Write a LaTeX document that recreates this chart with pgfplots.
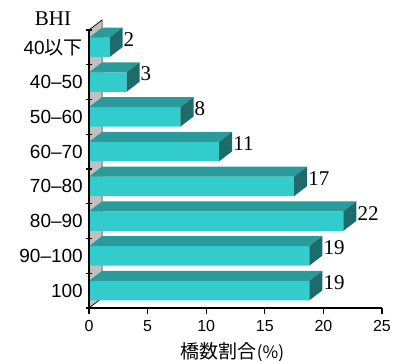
\documentclass[border=0pt]{standalone}
\usepackage{fontspec}
\setmainfont{Liberation Sans}
\newfontfamily\cjk{Noto Sans CJK JP}
\newfontfamily\tnr{Liberation Serif}
\usepackage{pgfplots}
\pgfplotsset{compat=1.18}
\definecolor{frontc}{HTML}{33CCCC}
\definecolor{topc}{HTML}{2A9A9A}
\definecolor{sidec}{HTML}{1E6B6B}
\definecolor{wallc}{HTML}{C0C0C0}
\pgfplotstableread{
y v lab
8 1.75 2
7 3.2 3
6 7.8 8
5 11.1 11
4 17.5 17
3 21.7 22
2 18.8 19
1 18.8 19
}\bardata
\begin{document}
\begin{tikzpicture}
\useasboundingbox (-89pt,-52pt) rectangle (318pt,308pt);
\begin{axis}[
  at={(0,0)}, anchor=south west, scale only axis,
  width=293pt, height=278pt,
  xmin=0, xmax=25, ymin=0.5, ymax=8.5,
  enlargelimits=false, clip=false, axis on top,
  axis x line*=bottom, axis y line*=left,
  axis line style={line width=1.2pt},
  xtick={0,5,...,25},
  ytick={1,...,8},
  yticklabels={100, 90–100, 80–90, 70–80, 60–70, 50–60, 40–50, 40{\cjk 以下}},
  extra y ticks={0.5,1.5,...,8.5},
  extra y tick labels={},
  extra y tick style={
    yticklabel=\empty,
    every major y tick/.style={draw=black, line width=1.3pt, xshift=3pt}},
  tick align=outside,
  major tick length=6pt,
  every major y tick/.style={draw=none},
  every major x tick/.style={line width=1.2pt, black},
  /pgf/number format/assume math mode=true,
  xticklabel style={font=\fontsize{16}{17}\selectfont, yshift=-3pt},
  yticklabel style={font=\fontsize{19}{20}\selectfont, inner sep=0pt},
  xlabel={{\cjk\fontsize{19}{20}\selectfont 橋数割合\fontsize{17}{18}\selectfont(\%)}},
  xlabel style={at={(rel axis cs:0.5,0)}, anchor=north, inner sep=0pt, yshift=-34pt, xshift=-3pt},
  no markers,
]
% wall
\addplot[fill=wallc, draw=black, line width=0.7pt] coordinates {(0,0.5) (1.12,0.79) (1.12,8.79) (0,8.5)} -- cycle;
% front faces
\addplot[xbar, bar width=0.56, fill=frontc, draw=none,
  point meta=explicit symbolic, nodes near coords,
  nodes near coords style={anchor=west, inner sep=0pt, xshift=14pt, yshift=8pt, font=\tnr\fontsize{21}{22}\selectfont, text=black}]
  table[x=v, y=y, meta=lab] {\bardata};
% top faces
\addplot[fill=topc, draw=none] coordinates {(0,8.28) (1.75,8.28) (2.87,8.57) (1.12,8.57)} -- cycle;
\addplot[fill=topc, draw=none] coordinates {(0,7.28) (3.2,7.28) (4.32,7.57) (1.12,7.57)} -- cycle;
\addplot[fill=topc, draw=none] coordinates {(0,6.28) (7.8,6.28) (8.92,6.57) (1.12,6.57)} -- cycle;
\addplot[fill=topc, draw=none] coordinates {(0,5.28) (11.1,5.28) (12.22,5.57) (1.12,5.57)} -- cycle;
\addplot[fill=topc, draw=none] coordinates {(0,4.28) (17.5,4.28) (18.62,4.57) (1.12,4.57)} -- cycle;
\addplot[fill=topc, draw=none] coordinates {(0,3.28) (21.7,3.28) (22.82,3.57) (1.12,3.57)} -- cycle;
\addplot[fill=topc, draw=none] coordinates {(0,2.28) (18.8,2.28) (19.92,2.57) (1.12,2.57)} -- cycle;
\addplot[fill=topc, draw=none] coordinates {(0,1.28) (18.8,1.28) (19.92,1.57) (1.12,1.57)} -- cycle;
% side faces
\addplot[fill=sidec, draw=none] coordinates {(1.75,7.72) (2.87,8.01) (2.87,8.57) (1.75,8.28)} -- cycle;
\addplot[fill=sidec, draw=none] coordinates {(3.2,6.72) (4.32,7.01) (4.32,7.57) (3.2,7.28)} -- cycle;
\addplot[fill=sidec, draw=none] coordinates {(7.8,5.72) (8.92,6.01) (8.92,6.57) (7.8,6.28)} -- cycle;
\addplot[fill=sidec, draw=none] coordinates {(11.1,4.72) (12.22,5.01) (12.22,5.57) (11.1,5.28)} -- cycle;
\addplot[fill=sidec, draw=none] coordinates {(17.5,3.72) (18.62,4.01) (18.62,4.57) (17.5,4.28)} -- cycle;
\addplot[fill=sidec, draw=none] coordinates {(21.7,2.72) (22.82,3.01) (22.82,3.57) (21.7,3.28)} -- cycle;
\addplot[fill=sidec, draw=none] coordinates {(18.8,1.72) (19.92,2.01) (19.92,2.57) (18.8,2.28)} -- cycle;
\addplot[fill=sidec, draw=none] coordinates {(18.8,0.72) (19.92,1.01) (19.92,1.57) (18.8,1.28)} -- cycle;
\node[font=\tnr\fontsize{21}{22}\selectfont, inner sep=0pt] at (rel axis cs:0,1) [xshift=-36pt, yshift=11pt] {BHI};
\end{axis}
\end{tikzpicture}
\end{document}
